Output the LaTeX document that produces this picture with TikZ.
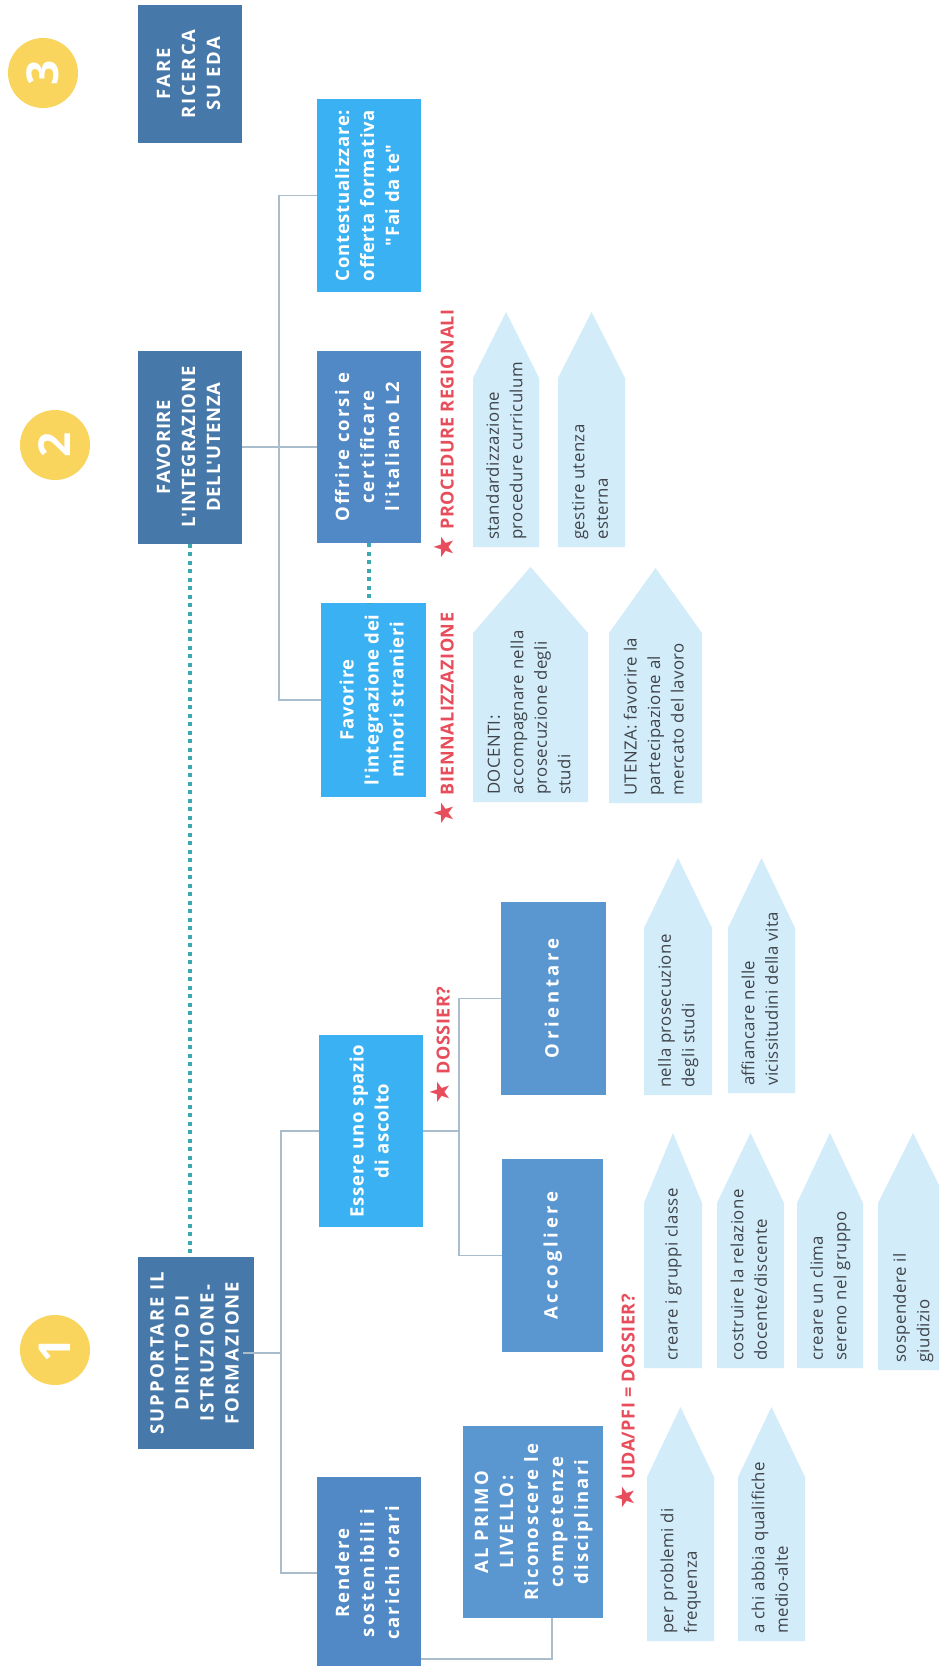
\documentclass[tikz,border=0pt]{standalone}
\usepackage{fontspec}
\usepackage{graphicx}
\setmainfont{Open Sans}
\newfontfamily\boxfont[LetterSpace=4]{Open Sans}
\newfontfamily\boxfontB[LetterSpace=11]{Open Sans}
\newfontfamily\boxfontC[LetterSpace=20]{Open Sans}
\newfontfamily\tagfont[LetterSpace=3]{Open Sans}
\newfontfamily\arrfont[LetterSpace=2.5]{Open Sans}
\newfontfamily\symfont{DejaVu Sans}
\usetikzlibrary{calc}
\definecolor{darkbox}{HTML}{4678A9}
\definecolor{midbox}{HTML}{5089C5}
\definecolor{lightbox}{HTML}{5A96D0}
\definecolor{brightbox}{HTML}{3AB1F3}
\definecolor{arrfill}{HTML}{D3ECFA}
\definecolor{arrtext}{HTML}{3F444A}
\definecolor{circfill}{HTML}{F9D55D}
\definecolor{redlab}{HTML}{E84D5B}
\definecolor{tealdot}{HTML}{3BA8B2}
\definecolor{connc}{HTML}{A9BDCD}
\newcommand\rt[1]{\rotatebox{90}{\begin{tabular}{@{}c@{}}#1\end{tabular}}}
\newcommand\rl[1]{\rotatebox{90}{\begin{tabular}{@{}l@{}}#1\end{tabular}}}
\newcommand\startag{{\symfont\fontsize{27}{27}\selectfont ★}\hspace{6pt}}
\newcommand\pent[7]{%
  \fill[arrfill] (#2,#6) -- (#2,#5) -- ({(#2+#3)/2},#4) -- (#3,#5) -- (#3,#6) -- cycle;
  \node[arrtxt, anchor=south] (#1) at ({(#2+#3)/2},#6-7) {\rl{#7}};
}
\tikzset{
  box/.style={inner sep=0pt, text=white, font=\boxfont\bfseries\fontsize{18.5}{25}\selectfont},
  boxB/.style={box, font=\boxfontB\bfseries\fontsize{18.5}{25}\selectfont},
  boxC/.style={box, font=\boxfontC\bfseries\fontsize{18.5}{25}\selectfont},
  arrtxt/.style={inner sep=0pt, text=arrtext, font=\arrfont\fontsize{16.8}{23.5}\selectfont},
  redtag/.style={inner sep=0pt, text=redlab, font=\tagfont\bfseries\fontsize{18}{22}\selectfont},
  numcirc/.style={circle, fill=circfill, minimum size=70pt, inner sep=0pt, text=white, font=\boxfont\bfseries\fontsize{44}{44}\selectfont},
  conn/.style={draw=connc, line width=1.5pt},
  dots/.style={draw=tealdot, line width=4pt, dash pattern=on 4pt off 4.5pt}
}
\begin{document}
\begin{tikzpicture}[x=1pt,y=-1pt]
\useasboundingbox (0,0) rectangle (939,1666);
\fill[white] (0,0) rectangle (939,1666);
\clip (0,0) rectangle (939,1666);

% number circles
\node[numcirc] (c3) at (43,73) {\rotatebox{90}{3}};
\node[numcirc] (c2) at (55,445) {\rotatebox{90}{2}};
\node[numcirc] (c1) at (55,1350) {\rotatebox{90}{1}};

% main boxes
\node[boxB, fill=darkbox, minimum width=104pt, minimum height=138pt] (fare) at (190,74) {\rt{FARE\\RICERCA\\SU EDA}};
\node[box, fill=darkbox, minimum width=104pt, minimum height=193pt] (fav) at (190,447) {\rt{FAVORIRE\\L'INTEGRAZIONE\\DELL'UTENZA}};
\node[boxB, fill=darkbox, minimum width=116pt, minimum height=192pt] (sup) at (196,1353) {\rt{SUPPORTARE IL\\DIRITTO DI\\ISTRUZIONE-\\FORMAZIONE}};

\node[box, fill=brightbox, minimum width=104pt, minimum height=193pt] (con) at (369,195.5) {\rt{Contestualizzare:\\offerta formativa\\"Fai da te"}};
\node[boxB, fill=midbox, minimum width=104pt, minimum height=192pt] (off) at (369,447) {\rt{Offrire corsi e\\certificare\\l'italiano L2}};
\node[box, fill=brightbox, minimum width=105pt, minimum height=194pt] (min) at (373.5,700) {\rt{Favorire\\l'integrazione dei\\minori stranieri}};
\node[box, fill=brightbox, minimum width=104pt, minimum height=192pt] (ess) at (371,1131) {\rt{Essere uno spazio\\di ascolto}};
\node[boxB, fill=midbox, minimum width=104pt, minimum height=192pt] (ren) at (369,1573) {\rt{Rendere\\sostenibili i\\carichi orari}};
\node[boxC, fill=lightbox, minimum width=105pt, minimum height=193pt] (ori) at (553.5,998.5) {\rt{Orientare}};
\node[boxC, fill=lightbox, minimum width=101pt, minimum height=193pt] (acc) at (552.5,1255.5) {\rt{Accogliere}};
\node[boxB, fill=lightbox, minimum width=140pt, minimum height=192pt] (alp) at (533,1522) {\rt{AL PRIMO\\LIVELLO:\\Riconoscere le\\competenze\\disciplinari}};

% connectors
\draw[conn] (fav.east) -- (off.west);
\coordinate (t3) at ([xshift=37pt]fav.east);
\draw[conn] (con.west) -| (t3) |- (min.west);
\draw[conn] ([xshift=-11pt]sup.east) -- ++(38,0) coordinate (t1);
\draw[conn] (ess.west) -| (t1) |- (ren.west);
\draw[conn] (ess.east) -- ++(36,0) coordinate (t2);
\draw[conn] (ori.west) -| (t2) |- (acc.west);
\draw[conn] ([yshift=-86pt]ren.east) -| ([xshift=19pt]alp.south);

% teal dotted links
\draw[dots] (fav.south) -- (fav.south |- sup.north);
\draw[dots] (off.south) -- (off.south |- min.north);

% red tags
\node[redtag, anchor=south] (tag1) at (444,560) {\rotatebox{90}{\startag PROCEDURE REGIONALI}};
\node[redtag, anchor=south] (tag2) at (444,826) {\rotatebox{90}{\startag BIENNALIZZAZIONE}};
\node[redtag, anchor=south] (tag3) at (440,1105) {\rotatebox{90}{\startag DOSSIER?}};
\node[redtag, anchor=south] (tag4) at (625,1510) {\rotatebox{90}{\startag UDA/PFI = DOSSIER?}};

% pentagon arrows
\pent{std}{473}{539}{312}{378}{547}{standardizzazione\\procedure curriculum}
\pent{ges}{558}{625}{312}{378}{547}{gestire utenza\\esterna}
\pent{doc}{473}{588}{567}{633}{802}{DOCENTI:\\accompagnare nella\\prosecuzione degli\\studi}
\pent{ute}{609}{702}{568}{633}{803}{UTENZA: favorire la\\partecipazione al\\mercato del lavoro}
\pent{nel}{644}{712}{858}{928}{1095}{nella prosecuzione\\degli studi}
\pent{aff}{728}{795}{858}{928}{1093}{affiancare nelle\\vicissitudini della vita}
\pent{cre}{644}{702}{1133}{1203}{1368}{creare i gruppi classe}
\pent{cos}{717}{784}{1133}{1203}{1368}{costruire la relazione\\docente/discente}
\pent{cli}{797}{863}{1133}{1203}{1368}{creare un clima\\sereno nel gruppo}
\pent{sos}{878}{948}{1133}{1203}{1370}{sospendere il\\giudizio}
\pent{per}{647}{714}{1407}{1477}{1641}{per problemi di\\frequenza}
\pent{chi}{738}{805}{1407}{1477}{1641}{a chi abbia qualifiche\\medio-alte}
\end{tikzpicture}
\end{document}
